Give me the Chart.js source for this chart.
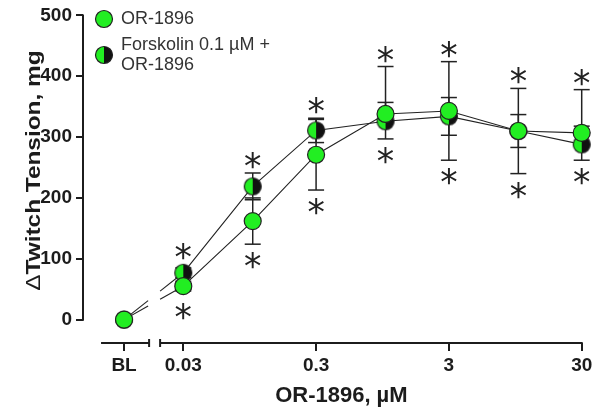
<!DOCTYPE html>
<html><head><meta charset="utf-8">
<script src="https://cdn.jsdelivr.net/npm/chart.js@4.4.1/dist/chart.umd.min.js"></script>
<style>html,body{margin:0;padding:0;background:#fff;}#wrap{width:601px;height:418px;}</style>
</head><body><div id="wrap"><canvas id="c" width="601" height="418"></canvas></div>
<script>
// ---------- data ----------
const doses = [0.03, 0.1, 0.3, 1, 3, 10, 30];
const baselineLabel = 'BL';
const orBaseline = 0;
const orMean    = [55, 162, 271, 338, 343, 310, 307];
const orErrUp   = [8, 38, 58, 78, 81, 70, 71];
const orErrDown = [8, 38, 58, 0, 81, 70, 0];
const fkBaseline = 0;
const fkMean    = [77, 219, 311, 326, 334, 310, 288];
const fkErrUp   = [8, 22, 20, 31, 31, 27, 30];
const fkErrDown = [8, 22, 20, 29, 31, 27, 26];
const sigAbove  = [true, true, true, true, true, true, true];
const sigBelow  = [true, true, true, true, true, true, true];
const yTickValues = [0, 100, 200, 300, 400, 500];
const xTickValues = [0.03, 0.3, 3, 30];
const xTickLabels = ['0.03', '0.3', '3', '30'];
const seriesNames = ['OR-1896', 'Forskolin 0.1 µM + OR-1896'];
const legendLines = [['OR-1896'], ['Forskolin 0.1 µM +', 'OR-1896']];
const yTitleSymbol = 'Δ';
const yTitle = 'Twitch Tension, mg';
const xTitle = 'OR-1896, µM';

// ---------- styles ----------
const GREEN = '#22ee22';
const INK = '#1c1c1c';
const R = 8.5;
const FONT = '"Liberation Sans", Arial, sans-serif';

const halfImg = (() => {
  const c = document.createElement('canvas'); c.width = 22; c.height = 22;
  const g = c.getContext('2d');
  g.beginPath(); g.moveTo(11, 11); g.arc(11, 11, R, Math.PI / 2, Math.PI * 1.5); g.closePath();
  g.fillStyle = GREEN; g.fill();
  g.beginPath(); g.moveTo(11, 11); g.arc(11, 11, R, -Math.PI / 2, Math.PI / 2); g.closePath();
  g.fillStyle = '#111'; g.fill();
  g.beginPath(); g.arc(11, 11, R, 0, Math.PI * 2); g.lineWidth = 1.2; g.strokeStyle = '#222'; g.stroke();
  return c;
})();

function seg(ctx, x1, y1, x2, y2) { ctx.beginPath(); ctx.moveTo(x1, y1); ctx.lineTo(x2, y2); ctx.stroke(); }

function drawStar(ctx, x, cy) {
  ctx.save();
  ctx.font = '100px "DejaVu Sans"';
  let m = ctx.measureText('*');
  const h100 = m.actualBoundingBoxAscent + m.actualBoundingBoxDescent;
  const size = 100 * 16 / h100;
  ctx.font = size + 'px "DejaVu Sans"';
  m = ctx.measureText('*');
  ctx.textAlign = 'center'; ctx.textBaseline = 'alphabetic';
  ctx.fillStyle = '#222';
  ctx.fillText('*', x, cy + (m.actualBoundingBoxAscent - m.actualBoundingBoxDescent) / 2);
  ctx.restore();
}

const series = [
  {di: 0, bi: 2, mean: orMean, up: orErrUp, dn: orErrDown},
  {di: 1, bi: 3, mean: fkMean, up: fkErrUp, dn: fkErrDown}
];

const deco = {
  id: 'deco',
  beforeDatasetsDraw(chart) {
    const ctx = chart.ctx, ys = chart.scales.y, xs = chart.scales.x, xb = chart.scales.xb;
    ctx.save();
    ctx.strokeStyle = '#222'; ctx.lineWidth = 1.5;
    series.forEach(s => {
      const meta = chart.getDatasetMeta(s.di);
      meta.data.forEach((pt, i) => {
        const p0 = ys.getPixelForValue(s.mean[i]);
        [[s.up[i], 1], [s.dn[i], -1]].forEach(([e, sg]) => {
          if (!e) return;
          const p1 = ys.getPixelForValue(s.mean[i] + sg * e);
          seg(ctx, pt.x, p0, pt.x, p1);
          seg(ctx, pt.x - 8, p1, pt.x + 8, p1);
        });
      });
    });
    const gapL = xb.right - 17, gapR = xs.left - 5;
    ctx.lineWidth = 1.1; ctx.strokeStyle = '#222';
    series.forEach(s => {
      const a = chart.getDatasetMeta(s.bi).data[0];
      const b = chart.getDatasetMeta(s.di).data[0];
      const yAt = x => a.y + (b.y - a.y) * (x - a.x) / (b.x - a.x);
      seg(ctx, a.x, a.y, gapL, yAt(gapL));
      seg(ctx, gapR, yAt(gapR), b.x, b.y);
    });
    ctx.restore();
  },
  afterDatasetsDraw(chart) {
    const ctx = chart.ctx, ys = chart.scales.y;
    const m0 = chart.getDatasetMeta(0).data;
    doses.forEach((d, i) => {
      let top = Infinity, bot = -Infinity;
      series.forEach(s => {
        const p = ys.getPixelForValue(s.mean[i]);
        top = Math.min(top, p - R, ys.getPixelForValue(s.mean[i] + s.up[i]));
        bot = Math.max(bot, p + R, ys.getPixelForValue(s.mean[i] - s.dn[i]));
      });
      const x = m0[i].x;
      if (sigAbove[i]) drawStar(ctx, x, top - 12.5);
      if (sigBelow[i]) drawStar(ctx, x, bot + 16.5);
    });
  },
  afterDraw(chart) {
    const ctx = chart.ctx, ys = chart.scales.y, xs = chart.scales.x, xb = chart.scales.xb;
    const ca = chart.chartArea;
    ctx.save();
    ctx.strokeStyle = INK; ctx.lineWidth = 2;
    seg(ctx, ca.left, ys.getPixelForValue(500) - 1, ca.left, ys.getPixelForValue(0) + 1);
    const yA = ca.bottom;
    const blx = xb.getPixelForValue(0);
    const s1L = blx - 23, s1R = xb.right - 16, s2L = xs.left - 5, s2R = xs.right;
    seg(ctx, s1L, yA, s1R, yA);
    seg(ctx, s1R, yA - 4, s1R, yA + 4);
    seg(ctx, s2L, yA, s2R + 1, yA);
    seg(ctx, s2L, yA - 4, s2L, yA + 4);
    // x title
    ctx.fillStyle = INK;
    ctx.font = 'bold 22px ' + FONT;
    ctx.textAlign = 'center'; ctx.textBaseline = 'middle';
    ctx.fillText(xTitle, (s1L + s2R) / 2, 396);
    // y title (Δ regular, rest bold), slightly stretched along its length like the source
    ctx.save();
    const fSym = '20px ' + FONT, fTxt = 'bold 20px ' + FONT;
    ctx.font = fSym; const wS = ctx.measureText(yTitleSymbol).width;
    ctx.font = fTxt; const wT = ctx.measureText(yTitle).width;
    const y0 = ys.getPixelForValue(0), y500 = ys.getPixelForValue(500);
    const span = (y0 - y500) * 0.79;
    const cy = (y0 + y500) / 2 + 3;
    ctx.translate(39.5, cy);
    ctx.rotate(-Math.PI / 2);
    ctx.scale(span / (wS + wT), 1);
    ctx.textAlign = 'left'; ctx.textBaseline = 'alphabetic';
    const x0 = -(wS + wT) / 2;
    ctx.font = fSym; ctx.fillText(yTitleSymbol, x0, 0);
    ctx.font = fTxt; ctx.fillText(yTitle, x0 + wS, 0);
    ctx.restore();
    // legend
    const lx = ca.left + 21;
    ctx.beginPath(); ctx.arc(lx, 19, R, 0, Math.PI * 2);
    ctx.fillStyle = GREEN; ctx.fill(); ctx.lineWidth = 1.2; ctx.strokeStyle = '#222'; ctx.stroke();
    ctx.drawImage(halfImg, lx - 11, 55 - 11);
    ctx.fillStyle = '#333';
    ctx.font = '18px ' + FONT;
    ctx.textAlign = 'left'; ctx.textBaseline = 'middle';
    ctx.fillText(legendLines[0][0], lx + 17, 19);
    ctx.fillText(legendLines[1][0], lx + 17, 45);
    ctx.fillText(legendLines[1][1], lx + 17, 65);
    ctx.restore();
  }
};

const lineStyle = {borderColor: '#222', borderWidth: 1.1, tension: 0, clip: false,
  pointRadius: R, pointHoverRadius: R, pointBorderWidth: 1.2, pointBorderColor: '#222'};

new Chart(document.getElementById('c'), {
  type: 'line',
  data: {
    datasets: [
      Object.assign({label: seriesNames[0], xAxisID: 'x', yAxisID: 'y',
        data: doses.map((d, i) => ({x: d, y: orMean[i]})),
        pointStyle: 'circle', pointBackgroundColor: GREEN}, lineStyle),
      Object.assign({label: seriesNames[1], xAxisID: 'x', yAxisID: 'y',
        data: doses.map((d, i) => ({x: d, y: fkMean[i]})),
        pointStyle: halfImg, pointBackgroundColor: GREEN}, lineStyle),
      Object.assign({label: seriesNames[0] + ' baseline', xAxisID: 'xb', yAxisID: 'y',
        data: [{x: baselineLabel, y: orBaseline}],
        pointStyle: 'circle', pointBackgroundColor: GREEN}, lineStyle),
      Object.assign({label: seriesNames[1] + ' baseline', xAxisID: 'xb', yAxisID: 'y',
        data: [{x: baselineLabel, y: fkBaseline}],
        pointStyle: halfImg, pointBackgroundColor: GREEN}, lineStyle)
    ]
  },
  options: {
    responsive: false, animation: false, devicePixelRatio: 1,
    layout: {padding: {top: 13.5, right: 19.3, left: 0, bottom: 0}},
    plugins: {legend: {display: false}, tooltip: {enabled: false}},
    scales: {
      y: {
        type: 'linear', position: 'left', min: -38.4, max: 500, bounds: 'data',
        afterBuildTicks: s => { s.ticks = yTickValues.map(v => ({value: v})); },
        afterFit: s => { s.width = 83; },
        ticks: {stepSize: 100, color: INK, padding: 4, font: {family: FONT, size: 19, weight: 'bold'}},
        grid: {display: true, drawOnChartArea: false, drawTicks: true, tickLength: 7, color: INK, lineWidth: 2},
        border: {display: false}
      },
      xb: {
        type: 'category', labels: [baselineLabel], position: 'bottom', offset: true,
        stack: 'xaxis', stackWeight: 82.1,
        afterFit: s => { s.height = 75; },
        ticks: {color: INK, padding: 3, maxRotation: 0, font: {family: FONT, size: 19, weight: 'bold'}},
        grid: {display: true, offset: false, drawOnChartArea: false, drawTicks: true, tickLength: 8, color: INK, lineWidth: 2},
        border: {display: false}
      },
      x: {
        type: 'logarithmic', position: 'bottom', min: 0.02189, max: 30, bounds: 'data',
        stack: 'xaxis', stackWeight: 416.6,
        afterBuildTicks: s => { s.ticks = xTickValues.map(v => ({value: v})); },
        afterFit: s => { s.height = 75; },
        ticks: {color: INK, padding: 3, maxRotation: 0, autoSkip: false,
          callback: (v, i) => xTickLabels[i],
          font: {family: FONT, size: 19, weight: 'bold'}},
        grid: {display: true, drawOnChartArea: false, drawTicks: true, tickLength: 8, color: INK, lineWidth: 2},
        border: {display: false}
      }
    }
  },
  plugins: [deco]
});
</script>
</body></html>
